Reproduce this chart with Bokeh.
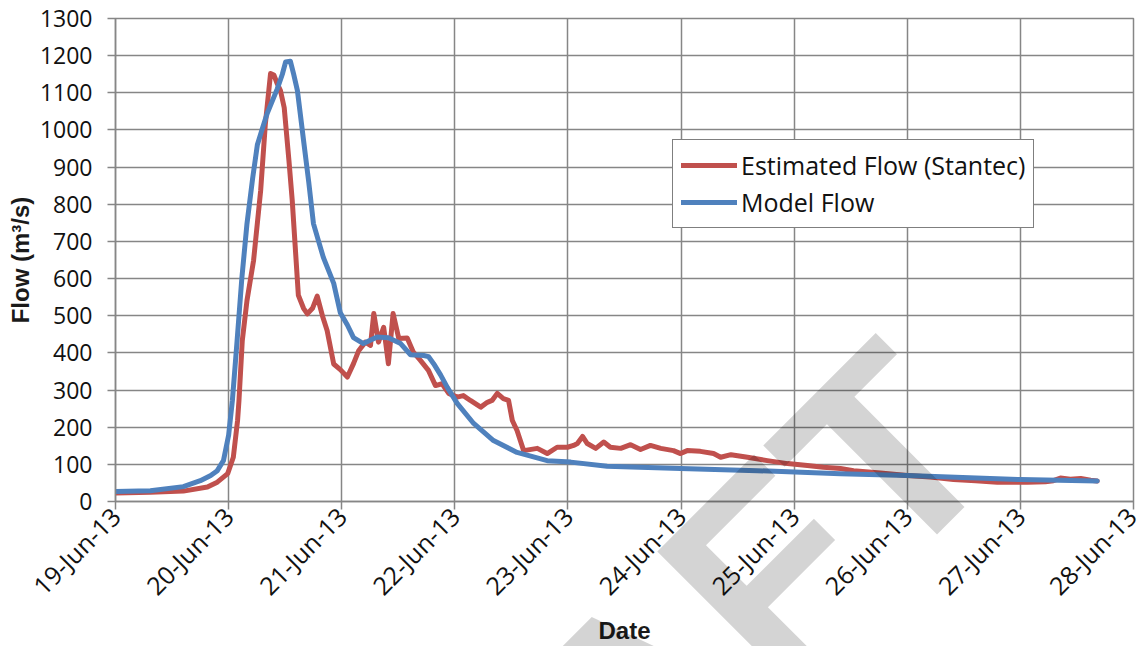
import math
from bokeh.plotting import figure
from bokeh.models import Legend, FixedTicker, Div
from bokeh.layouts import column
from bokeh.embed import file_html
from bokeh.resources import INLINE

# ---- data (x in hours since 19-Jun-13 00:00, y in m3/s) ----
tick_labels = ["19-Jun-13", "20-Jun-13", "21-Jun-13", "22-Jun-13", "23-Jun-13",
               "24-Jun-13", "25-Jun-13", "26-Jun-13", "27-Jun-13", "28-Jun-13"]
tick_hours = [0, 24, 48, 72, 96, 120, 144, 168, 192, 216]
y_ticks = [0, 100, 200, 300, 400, 500, 600, 700, 800, 900, 1000, 1100, 1200, 1300]

est_hours = [0, 7.4, 14.4, 19.5, 21.6, 23.8, 25.0, 25.9, 26.2, 26.9, 27.9, 29.3, 30.8,
             31.8, 32.9, 33.6, 34.3, 35.0, 35.8, 36.8, 37.5, 38.8, 39.9, 40.7, 41.8,
             42.8, 43.9, 44.9, 46.3, 47.7, 49.2, 50.5, 51.6, 53.0, 54.1, 54.8, 55.8,
             56.9, 57.9, 58.9, 60.1, 61.9, 63.2, 64.7, 66.4, 67.9, 69.3, 70.7, 72.5,
             73.8, 75.3, 77.5, 78.9, 79.9, 81.0, 82.3, 83.4, 84.2, 85.2, 86.6, 89.5,
             91.6, 93.7, 95.9, 97.2, 98.0, 99.1, 100.1, 101.9, 103.6, 105.0, 107.2,
             109.3, 111.4, 113.5, 115.7, 118.4, 119.9, 121.3, 124.1, 126.9, 128.4,
             130.6, 134.1, 138.3, 142.6, 146.8, 150.2, 153.8, 156.6, 162.3, 168.0,
             172.9, 177.8, 182.5, 187.1, 193.5, 197.3, 199.0, 200.5, 202.6, 204.8,
             206.9, 208.3]
est_flow = [23, 25, 28, 39, 52, 75, 119, 218, 272, 433, 541, 649, 837,
            1017, 1152, 1148, 1125, 1106, 1060, 918, 810, 555, 520, 505, 520,
            553, 500, 460, 370, 355, 335, 371, 406, 429, 420, 506, 429,
            469, 371, 506, 439, 440, 402, 380, 353, 312, 317, 291, 281,
            285, 272, 254, 267, 272, 291, 277, 272, 218, 191, 137, 143,
            129, 146, 146, 151, 156, 175, 156, 143, 160, 146, 143,
            153, 140, 151, 143, 137, 129, 137, 135, 129, 119,
            126, 119, 110, 102, 97, 92, 89, 83, 77, 70,
            66, 59, 56, 52, 52, 53, 56, 63, 60, 62,
            57, 55]

model_hours = [0, 7.4, 14.4, 18.0, 20.2, 21.6, 22.9, 24.0, 24.8, 25.8, 26.8, 27.9,
               29.1, 30.1, 31.2, 32.2, 34.3, 35.4, 36.1, 37.1, 37.8, 38.6, 39.9,
               41.0, 42.0, 43.1, 44.1, 46.3, 47.7, 49.2, 50.5, 52.6, 55.5, 57.9,
               60.5, 62.6, 65.4, 66.4, 67.5, 69.0, 70.4, 72.5, 76.0, 80.2, 85.2,
               91.6, 96.6, 104.3, 119.9, 136.2, 153.8, 168.0, 192.0, 208.3]
model_flow = [27, 29, 40, 56, 70, 83, 110, 178, 272, 433, 600, 748,
              870, 960, 1005, 1045, 1110, 1150, 1183, 1185, 1150, 1106, 972,
              860, 748, 700, 657, 587, 508, 475, 441, 425, 443, 441,
              425, 395, 393, 390, 371, 340, 307, 264, 210, 164, 132,
              110, 106, 95, 89, 83, 75, 70, 59, 55]

# ---- figure ----
GRID = "#868686"
TICK_FONT = "Open Sans"
TITLE_FONT = "Liberation Sans"

p = figure(width=1143, height=646, x_range=(0, 216), y_range=(0, 1300),
           output_backend="svg", toolbar_location=None,
           min_border_left=115, min_border_right=10, min_border_top=18,
           min_border_bottom=145)
p.background_fill_color = "white"
p.border_fill_color = "white"
p.outline_line_color = GRID
p.outline_line_width = 1.5

xt = FixedTicker(ticks=tick_hours)
yt = FixedTicker(ticks=y_ticks)
p.xaxis.ticker = xt
p.xgrid.ticker = xt
p.yaxis.ticker = yt
p.ygrid.ticker = yt
p.xaxis.major_label_overrides = {h: lab for h, lab in zip(tick_hours, tick_labels)}
p.xaxis.major_label_orientation = math.pi / 4

for g in (p.xgrid, p.ygrid):
    g.grid_line_color = GRID
    g.grid_line_width = 1.5
    g.grid_line_alpha = 1.0

for ax in (p.xaxis, p.yaxis):
    ax.axis_line_color = GRID
    ax.axis_line_width = 1.5
    ax.major_tick_line_color = GRID
    ax.major_tick_line_width = 1.5
    ax.major_tick_in = 0
    ax.major_tick_out = 8
    ax.minor_tick_line_color = None
    ax.major_label_text_font = TICK_FONT
    ax.major_label_text_color = "#111111"
    ax.axis_label_text_font = TITLE_FONT
    ax.axis_label_text_font_style = "bold"
    ax.axis_label_text_font_size = "24px"
    ax.axis_label_text_color = "#1a1a1a"

p.yaxis.major_label_text_font_size = "23px"
p.xaxis.major_label_text_font_size = "25px"
p.yaxis.major_label_standoff = 15
p.xaxis.major_label_standoff = 2
p.yaxis.axis_label = "Flow (m³/s)"
p.xaxis.axis_label = "Date"
p.yaxis.axis_label_standoff = 3
p.xaxis.axis_label_standoff = 0

r_est = p.line(est_hours, est_flow, line_color="#C0504D", line_width=5,
               line_join="round", line_cap="round")
r_mod = p.line(model_hours, model_flow, line_color="#4F81BD", line_width=5,
               line_join="round", line_cap="round")

legend = Legend(items=[("Estimated Flow (Stantec)", [r_est]), ("Model Flow", [r_mod])],
                location=(557, 273), orientation="vertical")
legend.label_text_font = TICK_FONT
legend.label_text_font_size = "25px"
legend.label_text_color = "#111111"
legend.glyph_width = 56
legend.glyph_height = 34
legend.label_height = 34
legend.label_standoff = 4
legend.padding = 8
legend.spacing = 3
legend.margin = 0
legend.border_line_color = "black"
legend.border_line_width = 1.5
legend.background_fill_color = "white"
legend.background_fill_alpha = 1.0
p.add_layout(legend)

# watermark: translucent rotated text laid over the whole chart area
wm_html = ('<div style="position:absolute; left:196px; top:943px; '
           'transform-origin:0 0; transform:rotate(-45deg); '
           "font-family:'Liberation Sans'; font-weight:bold; font-size:270px; "
           'line-height:1; white-space:nowrap; color:rgba(0,0,0,0.17); '
           'pointer-events:none;">DRAFT</div>')
wm = Div(text=wm_html, width=1143, height=646,
         styles={"position": "absolute", "left": "0px", "top": "0px",
                 "overflow": "hidden", "pointer-events": "none"})

layout = column(p, wm)
open("out.html", "w").write(file_html(layout, INLINE))
